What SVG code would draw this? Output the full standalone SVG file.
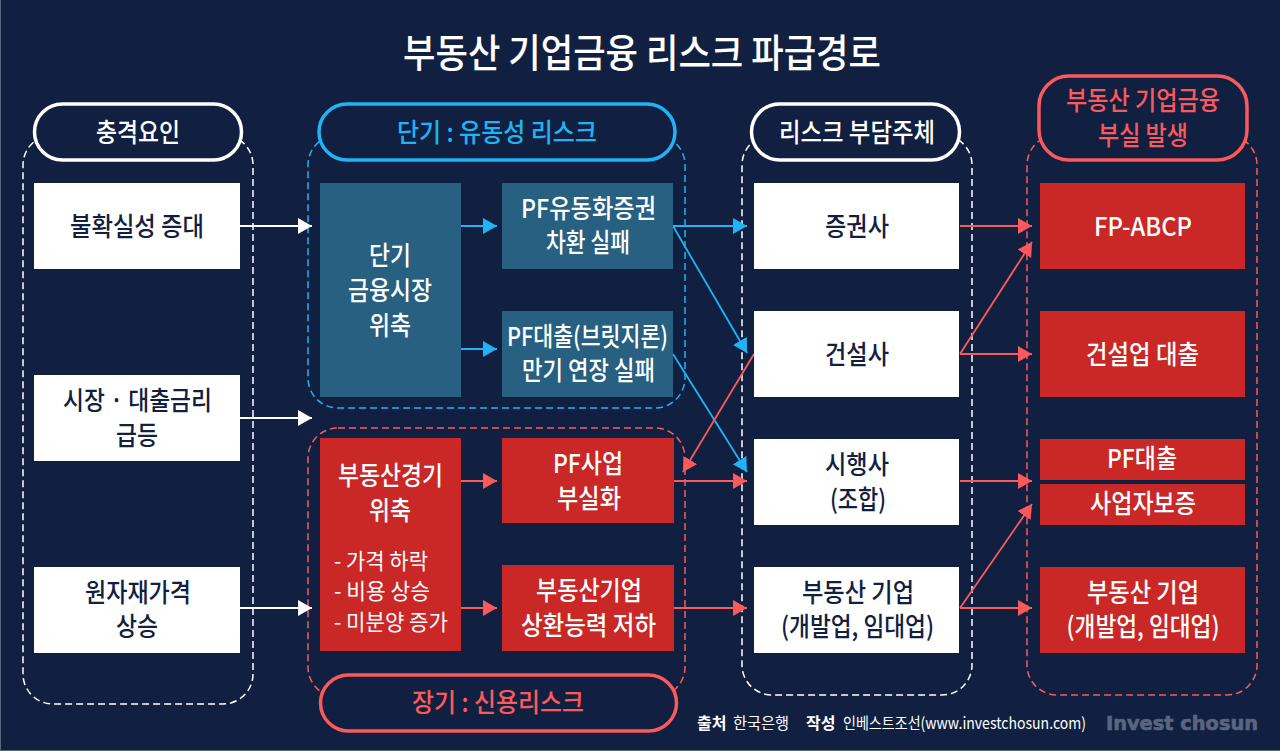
<svg xmlns="http://www.w3.org/2000/svg" width="1280" height="751" viewBox="0 0 1280 751">
<style>
text{font-family:"Noto Sans CJK KR","Noto Sans",sans-serif;text-anchor:middle;font-weight:500;font-size:26px}
.w{fill:#fff}.n{fill:#112040}.b{fill:#1eb4f5}.r{fill:#fc5a5a}
.bw{fill:#fff}.bb{fill:#276080}.br{fill:#ca2727}
.d{fill:none;stroke-width:1.5;stroke-dasharray:7 4}
.p{fill:#112040;stroke-width:3.5}
.cw{stroke:#fff;fill:none;stroke-width:1.8}
.cb{stroke:#1eb4f5;fill:none;stroke-width:1.8}
.cr{stroke:#fc5a5a;fill:none;stroke-width:1.8}
.s{font-size:22px;text-anchor:start;font-weight:400}
.f{font-size:16px;text-anchor:start;font-weight:400}
.fb{font-size:16px;text-anchor:start;font-weight:700}
</style>
<defs>
<marker id="mw" markerUnits="userSpaceOnUse" markerWidth="14" markerHeight="16" refX="14" refY="8" orient="auto"><path d="M0 0L14 8L0 16Z" fill="#fff"/></marker>
<marker id="mb" markerUnits="userSpaceOnUse" markerWidth="14" markerHeight="16" refX="14" refY="8" orient="auto"><path d="M0 0L14 8L0 16Z" fill="#1eb4f5"/></marker>
<marker id="mr" markerUnits="userSpaceOnUse" markerWidth="14" markerHeight="16" refX="14" refY="8" orient="auto"><path d="M0 0L14 8L0 16Z" fill="#fc5a5a"/></marker>
</defs>
<rect width="1280" height="751" fill="#112040"/>
<path d="M0.500 0V750.500H1280" fill="none" stroke="#5a6580" stroke-width="1"/>
<text id="title" class="w" x="642" y="67" style="font-size:39px" textLength="478" lengthAdjust="spacingAndGlyphs">부동산 기업금융 리스크 파급경로</text>

<g id="frames">
<rect class="d" x="23" y="135" width="230" height="569" rx="30" stroke="#fff"/>
<rect class="d" x="308" y="135" width="377" height="273" rx="30" stroke="#1eb4f5"/>
<rect class="d" x="308" y="428" width="377" height="269" rx="30" stroke="#fc5a5a"/>
<rect class="d" x="742" y="135" width="230" height="560" rx="30" stroke="#fff"/>
<rect class="d" x="1027" y="135" width="230" height="560" rx="30" stroke="#fc5a5a"/>
</g>

<g id="connectors">
<path class="cw" marker-end="url(#mw)" d="M240 226H312"/>
<path class="cw" marker-end="url(#mw)" d="M240 418H312"/>
<path class="cw" marker-end="url(#mw)" d="M240 608H312"/>
<path class="cb" marker-end="url(#mb)" d="M461 226H497"/>
<path class="cb" marker-end="url(#mb)" d="M461 349H497"/>
<path class="cb" marker-end="url(#mb)" d="M673 226H747"/>
<path class="cb" marker-end="url(#mb)" d="M673 226L747 353"/>
<path class="cb" marker-end="url(#mb)" d="M673 354L747 472"/>
<path class="cr" marker-end="url(#mr)" d="M754 354L683 472"/>
<path class="cr" marker-end="url(#mr)" d="M461 481H497"/>
<path class="cr" marker-end="url(#mr)" d="M461 608H497"/>
<path class="cr" marker-end="url(#mr)" d="M673 481H747"/>
<path class="cr" marker-end="url(#mr)" d="M673 608H747"/>
<path class="cr" marker-end="url(#mr)" d="M960 226H1032"/>
<path class="cr" marker-end="url(#mr)" d="M960 354L1032 242"/>
<path class="cr" marker-end="url(#mr)" d="M960 354H1032"/>
<path class="cr" marker-end="url(#mr)" d="M960 481H1032"/>
<path class="cr" marker-end="url(#mr)" d="M960 608L1032 504"/>
<path class="cr" marker-end="url(#mr)" d="M960 608H1032"/>
</g>

<g id="h1"><rect class="p" x="34.500" y="104" width="207" height="56" rx="28" stroke="#fff"/><text class="w" x="138" y="142" textLength="84" lengthAdjust="spacingAndGlyphs">충격요인</text></g>
<g id="h2"><rect class="p" x="319" y="104" width="356" height="56" rx="28" stroke="#1eb4f5"/><text class="b" x="497" y="142" textLength="200" lengthAdjust="spacingAndGlyphs">단기 : 유동성 리스크</text></g>
<g id="h3"><rect class="p" x="751.500" y="104" width="208" height="56" rx="28" stroke="#fff"/><text class="w" x="857" y="142" textLength="156" lengthAdjust="spacingAndGlyphs">리스크 부담주체</text></g>
<g id="h4"><rect class="p" x="1039" y="76" width="208" height="84" rx="30" stroke="#fc5a5a"/><text class="r" x="1143" y="110" textLength="154" lengthAdjust="spacingAndGlyphs">부동산 기업금융</text><text class="r" x="1143" y="145" textLength="90" lengthAdjust="spacingAndGlyphs">부실 발생</text></g>
<g id="h5"><rect class="p" x="320.500" y="675" width="356" height="56" rx="28" stroke="#fc5a5a"/><text class="r" x="498" y="712" textLength="172" lengthAdjust="spacingAndGlyphs">장기 : 신용리스크</text></g>

<g id="a1"><rect class="bw" x="34" y="183" width="206" height="86"/><text class="n" x="137" y="236" textLength="134" lengthAdjust="spacingAndGlyphs">불확실성 증대</text></g>
<g id="a2"><rect class="bw" x="34" y="375" width="206" height="86"/><text class="n" x="137.500" y="410" textLength="149" lengthAdjust="spacingAndGlyphs">시장 · 대출금리</text><text class="n" x="137" y="445" textLength="42" lengthAdjust="spacingAndGlyphs">급등</text></g>
<g id="a3"><rect class="bw" x="34" y="567" width="206" height="86"/><text class="n" x="138" y="602" textLength="106" lengthAdjust="spacingAndGlyphs">원자재가격</text><text class="n" x="137" y="636" textLength="42" lengthAdjust="spacingAndGlyphs">상승</text></g>

<g id="b1"><rect class="bb" x="320" y="183" width="141" height="214"/><text class="w" x="390" y="265" textLength="42" lengthAdjust="spacingAndGlyphs">단기</text><text class="w" x="390" y="300" textLength="84" lengthAdjust="spacingAndGlyphs">금융시장</text><text class="w" x="390" y="335" textLength="42" lengthAdjust="spacingAndGlyphs">위축</text></g>
<g id="b2"><rect class="bb" x="502" y="183" width="171" height="86"/><text class="w" x="588.500" y="218" textLength="135" lengthAdjust="spacingAndGlyphs">PF유동화증권</text><text class="w" x="588" y="252" textLength="84" lengthAdjust="spacingAndGlyphs">차환 실패</text></g>
<g id="b3"><rect class="bb" x="502" y="311" width="171" height="86"/><text class="w" x="587.500" y="346" textLength="161" lengthAdjust="spacingAndGlyphs">PF대출(브릿지론)</text><text class="w" x="588.500" y="380" textLength="133" lengthAdjust="spacingAndGlyphs">만기 연장 실패</text></g>

<g id="c1"><rect class="br" x="320" y="438" width="141" height="213"/><text class="w" x="390.500" y="485" textLength="105" lengthAdjust="spacingAndGlyphs">부동산경기</text><text class="w" x="390" y="520" textLength="42" lengthAdjust="spacingAndGlyphs">위축</text>
<text class="w s" x="334" y="569" textLength="94" lengthAdjust="spacingAndGlyphs">- 가격 하락</text><text class="w s" x="334" y="599" textLength="96" lengthAdjust="spacingAndGlyphs">- 비용 상승</text><text class="w s" x="334" y="630" textLength="114" lengthAdjust="spacingAndGlyphs">- 미분양 증가</text></g>
<g id="c2"><rect class="br" x="502" y="438" width="172" height="85"/><text class="w" x="588" y="473" textLength="70" lengthAdjust="spacingAndGlyphs">PF사업</text><text class="w" x="589" y="508" textLength="64" lengthAdjust="spacingAndGlyphs">부실화</text></g>
<g id="c3"><rect class="br" x="502" y="565" width="172" height="86"/><text class="w" x="589" y="600" textLength="106" lengthAdjust="spacingAndGlyphs">부동산기업</text><text class="w" x="588.500" y="635" textLength="135" lengthAdjust="spacingAndGlyphs">상환능력 저하</text></g>

<g id="d1"><rect class="bw" x="754" y="183" width="205" height="86"/><text class="n" x="857" y="236" textLength="64" lengthAdjust="spacingAndGlyphs">증권사</text></g>
<g id="d2"><rect class="bw" x="754" y="311" width="205" height="86"/><text class="n" x="857" y="364" textLength="64" lengthAdjust="spacingAndGlyphs">건설사</text></g>
<g id="d3"><rect class="bw" x="754" y="439" width="205" height="86"/><text class="n" x="857" y="474" textLength="64" lengthAdjust="spacingAndGlyphs">시행사</text><text class="n" x="858" y="509" textLength="56" lengthAdjust="spacingAndGlyphs">(조합)</text></g>
<g id="d4"><rect class="bw" x="754" y="567" width="205" height="86"/><text class="n" x="858" y="602" textLength="112" lengthAdjust="spacingAndGlyphs">부동산 기업</text><text class="n" x="857.500" y="636" textLength="153" lengthAdjust="spacingAndGlyphs">(개발업, 임대업)</text></g>

<g id="e1"><rect class="br" x="1040" y="183" width="205" height="86"/><text class="w" x="1143" y="236" textLength="98" lengthAdjust="spacingAndGlyphs">FP-ABCP</text></g>
<g id="e2"><rect class="br" x="1040" y="311" width="205" height="86"/><text class="w" x="1142.500" y="364" textLength="113" lengthAdjust="spacingAndGlyphs">건설업 대출</text></g>
<g id="e3"><rect class="br" x="1040" y="439" width="205" height="41"/><text class="w" x="1142" y="468" textLength="70" lengthAdjust="spacingAndGlyphs">PF대출</text></g>
<g id="e4"><rect class="br" x="1040" y="484" width="205" height="41"/><text class="w" x="1143" y="513" textLength="106" lengthAdjust="spacingAndGlyphs">사업자보증</text></g>
<g id="e5"><rect class="br" x="1040" y="567" width="205" height="86"/><text class="w" x="1143" y="602" textLength="112" lengthAdjust="spacingAndGlyphs">부동산 기업</text><text class="w" x="1143" y="636" textLength="153" lengthAdjust="spacingAndGlyphs">(개발업, 임대업)</text></g>

<g id="footer">
<text class="w fb" x="697" y="729">출처</text>
<text class="w f" x="733" y="729" textLength="56" lengthAdjust="spacingAndGlyphs">한국은행</text>
<text class="w fb" x="806" y="729">작성</text>
<text class="w f" x="843" y="729" textLength="243" lengthAdjust="spacingAndGlyphs">인베스트조선(www.investchosun.com)</text>
<text x="1106" y="730" textLength="152" lengthAdjust="spacingAndGlyphs" style="font-family:'DejaVu Sans',sans-serif;font-size:20px;text-anchor:start;font-weight:700;fill:#5a6580;stroke:#5a6580;stroke-width:.7">Invest chosun</text>
</g>
</svg>
